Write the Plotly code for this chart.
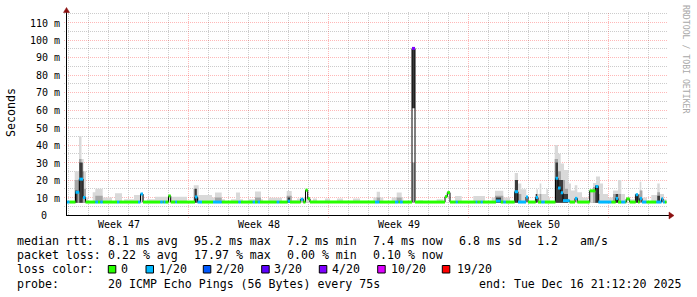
import math
import plotly.graph_objects as go

MONO = "DejaVu Sans Mono"
W, H = 697, 297
L, R, T, B = 67, 30, 12, 82
PW, PH = W - L - R, H - T - B
X_MAX = 30.0          # days shown
X_END = 29.975        # last sample end (days)
Y_MAX = 116.0         # ms

# ---------------- data (days since start, milliseconds) ----------------
med_day = [0.00, 0.125, 0.425, 0.615, 0.80, 0.925, 1.415, 1.55, 1.665, 1.785,
           2.50, 2.615, 3.55, 3.675, 3.80, 4.665, 4.785, 4.835, 4.915, 5.075,
           5.185, 5.415, 5.50, 6.40, 6.525, 6.75, 7.30, 7.735, 8.565, 8.685,
           9.285, 9.40, 9.535, 9.65, 10.485, 10.615, 11.035, 11.15, 11.685, 11.815,
           11.925, 12.035, 12.15, 15.40, 15.615, 16.40, 16.565, 16.65, 16.785, 17.25,
           17.40, 18.90, 19.015, 19.15, 19.435, 19.535, 20.435, 20.515, 20.685, 20.785,
           21.45, 21.685, 21.815, 21.935, 22.385, 22.55, 22.95, 23.05, 23.435, 23.55,
           23.715, 23.885, 24.425, 24.55, 24.685, 24.80, 25.135, 25.40, 25.515, 26.135,
           26.425, 26.565, 27.215, 27.435, 27.55, 27.715, 27.915, 27.965, 28.135, 28.435,
           28.55, 28.635, 28.75, 28.965, 29.465, 29.725, 29.80, 29.885]
med_ms = [7.4, 7.4, 13.0, 20.5, 10.0, 7.4, 7.4, 7.4, 7.4, 7.4,
          7.4, 7.4, 7.4, 12.0, 7.4, 7.4, 7.4, 7.4, 7.4, 10.9,
          7.4, 7.4, 7.4, 10.3, 7.4, 7.4, 7.4, 7.4, 7.4, 7.4,
          7.4, 7.4, 7.4, 7.4, 7.4, 7.4, 7.9, 7.4, 9.0, 7.4,
          14.2, 9.3, 7.4, 7.4, 7.4, 7.4, 7.4, 7.4, 7.4, 95.2,
          7.4, 10.5, 12.8, 7.4, 7.4, 7.4, 7.4, 7.4, 7.4, 7.4,
          8.0, 7.4, 7.4, 7.4, 13.3, 7.4, 10.3, 7.4, 10.0, 7.4,
          7.4, 7.4, 21.0, 15.4, 12.7, 8.2, 7.4, 9.5, 7.4, 13.8,
          16.3, 7.4, 7.4, 9.5, 7.4, 7.4, 7.4, 9.2, 7.4, 11.6,
          7.4, 9.5, 7.4, 7.4, 7.4, 9.3, 7.4, 7.4]
med_loss = [1, 0, 1, 1, 1, 0, 1, 0, 1, 0,
            1, 0, 1, 1, 0, 1, 0, 1, 0, 0,
            0, 1, 0, 1, 1, 0, 1, 0, 1, 0,
            1, 0, 1, 0, 1, 0, 1, 0, 1, 0,
            0, 0, 0, 1, 0, 1, 0, 1, 0, 4,
            0, 0, 0, 0, 1, 0, 1, 0, 1, 0,
            1, 0, 1, 0, 1, 1, 1, 0, 1, 0,
            1, 0, 1, 1, 1, 1, 0, 1, 0, 0,
            1, 1, 0, 1, 0, 1, 0, 0, 0, 1,
            0, 1, 1, 0, 1, 1, 1, 0]

# outer (light) smoke: top of ping spread
smoke_day = [0.00, 0.385, 0.60, 0.725, 0.835, 0.95, 1.05, 1.285, 1.415, 1.785,
             2.25, 2.40, 2.75, 2.85, 3.35, 3.85, 4.00, 4.40, 5.085, 5.20,
             6.00, 6.335, 6.585, 7.25, 7.40, 7.735, 7.90, 8.20, 8.45, 8.65,
             8.80, 9.05, 9.40, 9.70, 9.80, 10.05, 10.75, 10.985, 11.235, 11.50,
             11.85, 12.15, 12.30, 12.50, 12.90, 13.15, 13.50, 13.80, 14.30, 14.65,
             15.315, 15.485, 15.65, 15.815, 16.235, 16.485, 16.735, 16.815, 17.55, 17.80,
             18.485, 18.815, 19.40, 19.735, 20.315, 20.90, 21.235, 21.40, 21.815, 22.15,
             22.385, 22.55, 22.715, 22.965, 23.05, 23.385, 23.465, 23.55, 23.635, 23.715,
             23.965, 24.05, 24.15, 24.385, 24.55, 24.685, 24.85, 25.075, 25.20, 25.385,
             25.515, 25.75, 26.05, 26.135, 26.30, 26.45, 26.65, 26.80, 27.05, 27.30,
             27.55, 27.715, 27.90, 28.05, 28.20, 28.385, 28.635, 28.715, 28.80, 29.00,
             29.215, 29.515, 29.635, 29.85]
smoke_hi = [7.0, 25, 45, 32, 25, 10, 7.0, 13, 15, 10,
            7.0, 12.5, 7.0, 9, 11.4, 7.0, 9, 10.5, 11.4, 10.5,
            7.0, 17, 11.4, 10, 12.8, 9, 7.0, 9, 12.8, 9,
            7.0, 9, 13.5, 9, 7.0, 9.9, 7.0, 13.7, 8.5, 9.5,
            10, 7.0, 9.5, 7.0, 9.5, 7.0, 9.5, 7.0, 9.5, 7.0,
            10, 13.3, 10, 7.0, 10, 12.8, 10, 7.0, 8.5, 7.0,
            9, 7.0, 10.8, 7.0, 10.8, 7.0, 10, 13.9, 10, 8,
            24, 18, 14.7, 10, 7.0, 10, 14.7, 12, 18, 12,
            14.7, 10, 7.0, 40, 35, 29.5, 25.7, 18, 14, 17,
            13, 10, 7.0, 14, 18.3, 22, 18, 12, 10, 14,
            20, 12, 9, 7.0, 9, 12, 19, 14, 10, 7.0,
            11.4, 18, 12, 9]
smoke_lo = 6.8

# middle smoke layer
mid_day = [0.00, 0.385, 0.60, 0.725, 0.85, 0.95, 1.415, 1.785, 6.335, 6.50,
           6.60, 7.40, 7.735, 9.40, 9.70, 10.985, 11.235, 15.485, 15.65, 16.485,
           16.735, 17.25, 17.40, 21.40, 21.815, 22.385, 22.55, 22.715, 23.635, 23.715,
           24.385, 24.55, 24.70, 24.90, 25.05, 26.30, 26.55, 26.65, 27.30, 27.70,
           28.50, 28.635, 28.75, 29.515, 29.65]
mid_hi = [7.0, 20, 32, 25, 15, 7.0, 11, 7.0, 15, 10,
          7.0, 10, 7.0, 10, 7.0, 11, 7.0, 10, 7.0, 10,
          7.0, 30, 7.0, 11, 7.0, 20, 12, 7.0, 12, 7.0,
          32, 25, 20, 15, 7.0, 16, 12, 7.0, 12, 7.0,
          12, 14, 7.0, 13, 7.0]

# dense (dark) core of the smoke
core_day = [0.00, 0.40, 0.525, 0.615, 0.785, 6.385, 6.485, 11.035, 11.15, 17.25,
            17.40, 21.45, 21.70, 22.40, 22.55, 23.435, 23.515, 24.425, 24.55, 24.80,
            25.05, 26.415, 26.565, 27.435, 27.55, 28.435, 28.55, 29.515, 29.65]
core_lo = [7, 7, 7, 7, 7, 7, 7, 7, 7, 61,
           7, 7, 7, 7, 7, 7, 7, 7, 7, 7,
           7, 7, 7, 7, 7, 7, 7, 7, 7]
core_hi = [7, 14, 7, 30, 7, 15, 7, 10, 7, 95,
           7, 10, 7, 20, 7, 12, 7, 30, 20, 12,
           7, 17, 7, 12, 7, 12, 7, 11, 7]

loss_labels = ["0", "1/20", "2/20", "3/20", "4/20", "10/20", "19/20"]
loss_colors = ["#26ff00", "#00b8ff", "#0059ff", "#5e00ff", "#7e00ff", "#dd00ff", "#ff0000"]

week_labels = ["Week 47", "Week 48", "Week 49", "Week 50"]
week_start_day = [6.085, 13.085, 20.085, 27.085]
y_ticks = [0, 10, 20, 30, 40, 50, 60, 70, 80, 90, 100, 110]

rtt_stats = [8.1, 95.2, 7.2, 7.4, 6.8]   # avg, max, min, now, sd
rtt_ams = 1.2
loss_stats = [0.22, 17.97, 0.00, 0.10]  # avg, max, min, now
probe_text = "20 ICMP Echo Pings (56 Bytes) every 75s"
end_text = "end: Tue Dec 16 21:12:20 2025"

# ---------------- helpers ----------------
def fx(px):
    return (px - L) / PW

def fy(py):
    return (T + PH - py) / PH

def day_px(d):
    return L + d * PW / X_MAX

def ms_py(v):
    return T + PH - v * PH / Y_MAX

fig = go.Figure()

def steps(t, v):
    return list(t) + [X_END], list(v) + [v[-1]]

def band(t, lo, hi, color):
    xs, ylo = steps(t, lo)
    _, yhi = steps(t, hi)
    fig.add_trace(go.Scatter(x=xs, y=ylo, mode="lines", line=dict(width=0, shape="hv", color=color),
                             hoverinfo="skip", showlegend=False))
    fig.add_trace(go.Scatter(x=xs, y=yhi, mode="lines", line=dict(width=0, shape="hv", color=color),
                             fill="tonexty", fillcolor=color, hoverinfo="skip", showlegend=False))

band(smoke_day, [smoke_lo] * len(smoke_day), smoke_hi, "#d9d9d9")
band(mid_day, [smoke_lo] * len(mid_day), mid_hi, "#a6a6a6")
band(core_day, core_lo, core_hi, "#3a3a3a")

# median: thin dark step line, then loss-coloured horizontal pieces
mx, my = steps(med_day, med_ms)
fig.add_trace(go.Scatter(x=mx, y=my, mode="lines", line=dict(width=1, shape="hv", color="#000000"),
                         hoverinfo="skip", showlegend=False))
for li, col in enumerate(loss_colors):
    xs, ys = [], []
    for k in range(len(med_day)):
        if med_loss[k] != li:
            continue
        x1 = med_day[k + 1] if k + 1 < len(med_day) else X_END
        xs += [med_day[k], x1, None]
        ys += [med_ms[k], med_ms[k], None]
    if xs:
        fig.add_trace(go.Scatter(x=xs, y=ys, mode="lines", line=dict(width=3, color=col),
                                 hoverinfo="skip", showlegend=False))

shapes = []
GRAY = "rgba(110,110,110,0.35)"
RED = "rgba(255,0,0,0.28)"
DOT = "1px,1px"

# vertical grid: every day, red on week boundaries
for k in range(30):
    d = week_start_day[0] % 1 + k
    px = math.floor(day_px(d)) + 0.5
    major = any(abs(d - w) < 1e-6 for w in week_start_day)
    shapes.append(dict(type="line", xref="paper", yref="paper", x0=fx(px), x1=fx(px),
                       y0=fy(218 if major else 215), y1=fy(12), layer="below",
                       line=dict(color=RED if major else GRAY, width=1, dash=DOT)))
# horizontal grid: 5 ms minor, 10 ms major
for v in range(5, 116, 5):
    py = math.floor(ms_py(v)) + 0.5
    shapes.append(dict(type="line", xref="paper", yref="paper", x0=fx(64), x1=fx(668),
                       y0=fy(py), y1=fy(py), layer="below",
                       line=dict(color=RED if v % 10 == 0 else GRAY, width=1, dash=DOT)))

# axes and arrows
shapes.append(dict(type="line", xref="paper", yref="paper", x0=fx(66), x1=fx(670),
                   y0=fy(215.5), y1=fy(215.5), line=dict(color="#000000", width=1)))
shapes.append(dict(type="line", xref="paper", yref="paper", x0=fx(66.5), x1=fx(66.5),
                   y0=fy(216), y1=fy(11), line=dict(color="#000000", width=1)))
shapes.append(dict(type="path", xref="paper", yref="paper",
                   path=f"M {fx(669)} {fy(212)} L {fx(674)} {fy(215.5)} L {fx(669)} {fy(219)} Z",
                   fillcolor="#8b1010", line=dict(color="#8b1010", width=0.5)))
shapes.append(dict(type="path", xref="paper", yref="paper",
                   path=f"M {fx(63.5)} {fy(12.5)} L {fx(66.5)} {fy(7.5)} L {fx(69.5)} {fy(12.5)} Z",
                   fillcolor="#8b1010", line=dict(color="#8b1010", width=0.5)))

# legend colour boxes
box_px = [108.3, 146, 203.3, 261.7, 319.3, 377.7, 442.3]
label_px = [120, 158.3, 215, 273.3, 331, 390, 456.7]
for bx, col in zip(box_px, loss_colors):
    shapes.append(dict(type="rect", xref="paper", yref="paper", x0=fx(bx), x1=fx(bx + 7.5),
                       y0=fy(273), y1=fy(265.5), fillcolor=col, line=dict(color="#000000", width=1)))

anns = []
def text(px, py, s, size=11.6, xanchor="left", color="#000000", angle=0):
    anns.append(dict(x=fx(px), y=fy(py), xref="paper", yref="paper", text=s, showarrow=False,
                     xanchor=xanchor, yanchor="middle", textangle=angle, borderpad=0,
                     font=dict(family=MONO, size=size, color=color)))

for v in y_ticks:
    lab = f"{v} m" if v else "0"
    text(60.5 if v else 47.5, ms_py(v) + 0.5, lab, size=10, xanchor="right")
for wl, wd in zip(week_labels, week_start_day):
    text(day_px(wd - 3.5), 224.5, wl, size=10, xanchor="center")

text(11, 113, "Seconds", size=11.6, xanchor="center", angle=-90)
text(686, 59, "RRDTOOL / TOBI OETIKER", size=8.2, xanchor="center", color="#a8a8a8", angle=90)

LX = 15.5
y1, y2, y3, y4 = 241, 255.3, 269.3, 284.3
text(LX, y1, "median rtt:")
text(106.8, y1, f"{rtt_stats[0]:.1f} ms avg")
text(192.8, y1, f"{rtt_stats[1]:.1f} ms max")
text(286.2, y1, f"{rtt_stats[2]:.1f} ms min")
text(371.8, y1, f"{rtt_stats[3]:.1f} ms now")
text(457.8, y1, f"{rtt_stats[4]:.1f} ms sd")
text(536.2, y1, f"{rtt_ams:.1f}")
text(578.8, y1, "am/s")

text(LX, y2, "packet loss:")
text(106.8, y2, f"{loss_stats[0]:.2f} % avg")
text(192.8, y2, f"{loss_stats[1]:.2f} % max")
text(286.2, y2, f"{loss_stats[2]:.2f} % min")
text(371.8, y2, f"{loss_stats[3]:.2f} % now")

text(LX, y3, "loss color:")
for lp, lab in zip(label_px, loss_labels):
    text(lp - 0.5, y3, lab)

text(LX, y4, "probe:")
text(106.8, y4, probe_text)
text(477.8, y4, end_text)

fig.update_layout(
    width=W, height=H, autosize=False,
    margin=dict(l=L, r=R, t=T, b=B, pad=0),
    paper_bgcolor="#ffffff", plot_bgcolor="#ffffff",
    xaxis=dict(range=[0, X_MAX], visible=False, fixedrange=True),
    yaxis=dict(range=[0, Y_MAX], visible=False, fixedrange=True),
    shapes=shapes, annotations=anns, showlegend=False,
)
fig.write_html("out.html", config={"displayModeBar": False})
